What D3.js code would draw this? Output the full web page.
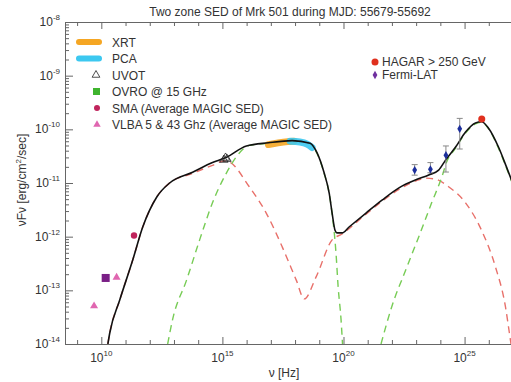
<!DOCTYPE html>
<html>
<head>
<meta charset="utf-8">
<script src="https://cdn.jsdelivr.net/npm/d3@7"></script>
<style>
body{margin:0;background:#fff;}
text{font-family:"Liberation Sans",Arial,sans-serif;fill:#333;}
</style>
</head>
<body>
<svg id="sed" width="511" height="382"></svg>
<script>
// model curves, log10(nu) and log10(nuFnu)
var totalLogNu   = [10.27,10.35,10.76,11.30,11.71,12.29,12.82,13.77,14.59,15.17,15.99,16.90,17.88,18.62,18.91,19.20,19.41,19.53,19.65,19.73,19.94,20.23,20.93,21.59,22.29,22.99,23.52,23.93,24.22,24.63,25.04,25.45,25.70,25.99,26.40,26.73,27.02];
var totalLogFlux = [-14.0,-13.79,-13.18,-12.43,-11.82,-11.26,-11.0,-10.80,-10.62,-10.52,-10.31,-10.25,-10.21,-10.26,-10.44,-10.81,-11.19,-11.56,-11.88,-11.93,-11.93,-11.82,-11.56,-11.32,-11.09,-10.94,-10.85,-10.76,-10.57,-10.33,-10.05,-9.88,-9.86,-9.98,-10.33,-10.70,-11.04];

var zone1LogNu   = [10.27,10.35,10.76,11.30,11.71,12.29,12.82,13.77,14.59,15.08,15.29,16.11,16.81,17.47,18.05,18.38,18.87,19.53,19.94,20.93,21.59,22.29,22.99,23.40,23.81,24.34,25.04,25.70,26.28,26.69,26.85,26.95];
var zone1LogFlux = [-14.0,-13.79,-13.18,-12.43,-11.82,-11.26,-11.0,-10.82,-10.67,-10.59,-10.61,-11.07,-11.56,-12.19,-12.81,-13.16,-12.75,-12.06,-11.95,-11.58,-11.34,-11.12,-10.96,-10.91,-10.93,-11.07,-11.37,-11.88,-12.57,-13.31,-13.79,-14.1];

var zone2SynLogNu   = [12.74,12.94,13.52,14.06,14.59,15.17,15.70,16.11,16.90,17.88,18.62,18.91,19.20,19.41,19.53,19.69,19.78,19.90,19.96];
var zone2SynLogFlux = [-14.0,-13.55,-12.81,-12.06,-11.37,-10.81,-10.44,-10.30,-10.26,-10.22,-10.27,-10.45,-10.82,-11.20,-11.57,-12.30,-12.94,-13.55,-14.0];

var zone2IcLogNu   = [21.55,21.99,22.57,23.11,23.64,24.06,24.26,24.63,25.04,25.45,25.70,25.99,26.40,26.73,27.02];
var zone2IcLogFlux = [-14.0,-13.31,-12.62,-12.0,-11.37,-10.89,-10.61,-10.35,-10.07,-9.90,-9.87,-9.99,-10.35,-10.72,-11.06];

// data
var xrtLogNu = [16.9,17.3,17.7,17.95];
var xrtFlux  = [5.2e-11,5.6e-11,5.9e-11,6.0e-11];
var pcaLogNu = [17.8,18.2,18.5,18.7];
var pcaFlux  = [6.0e-11,5.8e-11,5.3e-11,4.6e-11];
var uvotLogNu = [15.06,15.13,15.19];
var uvotFlux  = [2.7e-11,2.95e-11,2.8e-11];
var ovroLogNu = [10.18];
var ovroFlux  = [1.7e-13];
var smaLogNu = [11.35];
var smaFlux  = [1.05e-12];
var vlbaLogNu = [9.70,10.63];
var vlbaFlux  = [5.1e-14,1.74e-13];
var fermiLogNu = [22.94,23.59,24.23,24.80];
var fermiFlux  = [1.74e-11,1.8e-11,3.3e-11,1.02e-10];
var fermiLo    = [1.4e-11,1.55e-11,1.6e-11,4.3e-11];
var fermiHi    = [2.2e-11,2.4e-11,4.9e-11,1.6e-10];
var hagarLogNu = [25.71];
var hagarFlux  = [1.55e-10];

var xExpTicks = [9,10,11,12,13,14,15,16,17,18,19,20,21,22,23,24,25,26,27];
var xLabelExp = [10,15,20,25];
var yLabelExp = [-14,-13,-12,-11,-10,-9,-8];

var svg = d3.select("#sed");
var pL = 65, pR = 513, pT = 22, pB = 344;

var x = d3.scaleLog().domain([Math.pow(10,8.5), Math.pow(10,27)]).range([pL, pR]);
var y = d3.scaleLog().domain([1e-14, 1e-8]).range([pB, pT]);
function p10(v){ return Math.pow(10, v); }

svg.append("clipPath").attr("id","clip").append("rect")
   .attr("x",pL).attr("y",pT).attr("width",pR-pL).attr("height",pB-pT);

// title
svg.append("text").attr("x",290).attr("y",16).attr("text-anchor","middle")
   .attr("font-size",12).text("Two zone SED of Mrk 501 during MJD: 55679-55692");

// axes
var axisCol = "#666";
var xt = xExpTicks.map(p10);
var gxb = svg.append("g").attr("transform","translate(0,"+pB+")")
   .call(d3.axisBottom(x).tickValues(xt).tickSizeInner(-4).tickSizeOuter(0).tickFormat(""));
var gxt = svg.append("g").attr("transform","translate(0,"+pT+")")
   .call(d3.axisTop(x).tickValues(xt).tickSizeInner(-4).tickSizeOuter(0).tickFormat(""));
gxb.selectAll(".tick line").attr("y2", function(d){ return xLabelExp.indexOf(Math.round(Math.log10(d)))>=0 ? -7 : -4; });
gxt.selectAll(".tick line").attr("y2", function(d){ return xLabelExp.indexOf(Math.round(Math.log10(d)))>=0 ? 7 : 4; });

var yt = [];
for (var e = -14; e < -8; e++) for (var m = 1; m < 10; m++) yt.push(m*Math.pow(10,e));
yt.push(1e-8);
var gy = svg.append("g").attr("transform","translate("+pL+",0)")
   .call(d3.axisLeft(y).tickValues(yt).tickSizeOuter(0).tickFormat(""));
gy.selectAll(".tick line").attr("x2", function(d){
   var l = Math.log10(d); return Math.abs(l-Math.round(l))<1e-6 ? 8 : 4; });

svg.selectAll(".domain").attr("stroke",axisCol);
svg.selectAll(".tick line").attr("stroke",axisCol);

// tick labels with superscripts
xLabelExp.forEach(function(e){
  var t = svg.append("text").attr("x",x(p10(e))).attr("y",362).attr("text-anchor","middle").attr("font-size",12);
  t.append("tspan").text("10");
  t.append("tspan").attr("dy",-6).attr("font-size",8).text(e);
});
yLabelExp.forEach(function(e){
  var t = svg.append("text").attr("x",60).attr("y",y(p10(e))+4).attr("text-anchor","end").attr("font-size",12);
  t.append("tspan").text("10");
  t.append("tspan").attr("dy",-6).attr("font-size",8).text(e);
});

svg.append("text").attr("x",284).attr("y",377).attr("text-anchor","middle").attr("font-size",12).text("ν [Hz]");
var yl = svg.append("text").attr("transform","translate(26,180) rotate(-90)")
   .attr("text-anchor","middle").attr("font-size",12);
yl.append("tspan").text("νFν [erg/cm");
yl.append("tspan").attr("dy",-5).attr("font-size",8).text("2");
yl.append("tspan").attr("dy",5).text("/sec]");

// curves
var plot = svg.append("g").attr("clip-path","url(#clip)");
function drawCurve(lnu, lf, col, w, dash){
  var pts = lnu.map(function(v,i){ return [p10(v), p10(lf[i])]; });
  plot.append("path").datum(pts)
    .attr("fill","none").attr("stroke",col).attr("stroke-width",w)
    .attr("stroke-dasharray",dash)
    .attr("d", d3.line().x(function(d){return x(d[0]);}).y(function(d){return y(d[1]);}).curve(d3.curveMonotoneX));
}
drawCurve(zone1LogNu, zone1LogFlux, "#e8706a", 1.4, "7,5");
drawCurve(zone2SynLogNu, zone2SynLogFlux, "#77cc55", 1.4, "7,5");
drawCurve(zone2IcLogNu, zone2IcLogFlux, "#77cc55", 1.4, "7,5");

// X-ray bands
function band(lnu, fl, col){
  plot.append("path").datum(lnu.map(function(v,i){ return [p10(v), fl[i]]; }))
    .attr("fill","none").attr("stroke",col).attr("stroke-width",7).attr("stroke-linecap","round").attr("opacity",0.9)
    .attr("d", d3.line().x(function(d){return x(d[0]);}).y(function(d){return y(d[1]);}).curve(d3.curveMonotoneX));
}
band(xrtLogNu, xrtFlux, "#f5a623");
band(pcaLogNu, pcaFlux, "#3cc8f0");

drawCurve(totalLogNu, totalLogFlux, "#111", 1.6, null);

// points
var tri = d3.symbol().type(d3.symbolTriangle);
uvotLogNu.forEach(function(v,i){
  plot.append("path").attr("d",tri.size(30)()).attr("transform","translate("+x(p10(v))+","+y(uvotFlux[i])+")")
    .attr("fill","none").attr("stroke","#222").attr("stroke-width",0.8);
});
vlbaLogNu.forEach(function(v,i){
  plot.append("path").attr("d",tri.size(28)()).attr("transform","translate("+x(p10(v))+","+y(vlbaFlux[i])+")")
    .attr("fill","#e066b0");
});
ovroLogNu.forEach(function(v,i){
  plot.append("rect").attr("x",x(p10(v))-4).attr("y",y(ovroFlux[i])-4).attr("width",8).attr("height",8).attr("fill","#7a1f86");
});
smaLogNu.forEach(function(v,i){
  plot.append("circle").attr("cx",x(p10(v))).attr("cy",y(smaFlux[i])).attr("r",3.2).attr("fill","#c0245c");
});
fermiLogNu.forEach(function(v,i){
  var cx = x(p10(v));
  plot.append("line").attr("x1",cx).attr("x2",cx).attr("y1",y(fermiLo[i])).attr("y2",y(fermiHi[i])).attr("stroke","#888").attr("stroke-width",1);
  [fermiLo[i],fermiHi[i]].forEach(function(f){
    plot.append("line").attr("x1",cx-3).attr("x2",cx+3).attr("y1",y(f)).attr("y2",y(f)).attr("stroke","#888").attr("stroke-width",1);
  });
  plot.append("path").attr("d",d3.symbol().type(d3.symbolDiamond).size(20)()).attr("transform","translate("+cx+","+y(fermiFlux[i])+")").attr("fill","#1c2e9c");
});
hagarLogNu.forEach(function(v,i){
  plot.append("circle").attr("cx",x(p10(v))).attr("cy",y(hagarFlux[i])).attr("r",3.5).attr("fill","#e0301e");
});

// legend
var lg = svg.append("g");
var lgNames = ["XRT","PCA","UVOT","OVRO @ 15 GHz","SMA (Average MAGIC SED)","VLBA 5 & 43 Ghz (Average MAGIC SED)"];
lgNames.forEach(function(n,i){
  var cy = 42 + i*16.5;
  lg.append("text").attr("x",112).attr("y",cy+4.5).attr("font-size",12).text(n);
  if (i===0 || i===1) lg.append("line").attr("x1",79).attr("x2",99).attr("y1",cy).attr("y2",cy)
      .attr("stroke", i===0 ? "#f5a623" : "#3cc8f0").attr("stroke-width",6).attr("stroke-linecap","round");
  if (i===2) lg.append("path").attr("d",tri.size(26)()).attr("transform","translate(96,"+cy+")").attr("fill","none").attr("stroke","#222").attr("stroke-width",0.8);
  if (i===3) lg.append("rect").attr("x",93).attr("y",cy-3.5).attr("width",7).attr("height",7).attr("fill","#3fb42e");
  if (i===4) lg.append("circle").attr("cx",97).attr("cy",cy).attr("r",3).attr("fill","#c0245c");
  if (i===5) lg.append("path").attr("d",tri.size(24)()).attr("transform","translate(97,"+cy+")").attr("fill","#e066b0");
});
lg.append("circle").attr("cx",375).attr("cy",62).attr("r",3.5).attr("fill","#e0301e");
lg.append("text").attr("x",382).attr("y",66).attr("font-size",12).text("HAGAR > 250 GeV");
lg.append("path").attr("d",d3.symbol().type(d3.symbolDiamond).size(20)()).attr("transform","translate(375,75)").attr("fill","#7030a0");
lg.append("text").attr("x",382).attr("y",79).attr("font-size",12).text("Fermi-LAT");
</script>
</body>
</html>
